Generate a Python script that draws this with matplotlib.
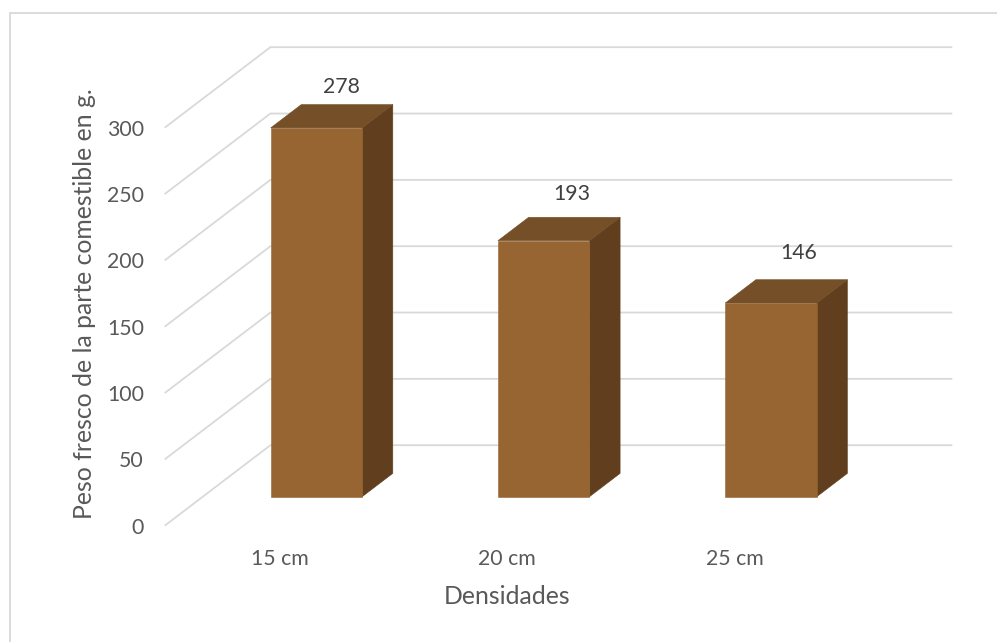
import matplotlib
matplotlib.use("Agg")
import matplotlib.pyplot as plt
from matplotlib.lines import Line2D
from matplotlib.patches import Polygon
from matplotlib.transforms import ScaledTranslation

categories = ["15 cm", "20 cm", "25 cm"]
values = [278, 193, 146]
value_ticks = [0, 50, 100, 150, 200, 250, 300]
x_title = "Densidades"
y_title = "Peso fresco de la parte comestible en g."

W, H = 997, 642
plt.rcParams["font.family"] = ["Lato", "DejaVu Sans"]
fig = plt.figure(figsize=(W / 100, H / 100), dpi=100, facecolor="white")

# Axes box in pixels: x 164.7..952.7, y 47..525.7
L, R, T, B = 164.7, 952.7, 47.0, 525.7
ax = fig.add_axes([L / W, 1 - B / H, (R - L) / W, (B - T) / H])
PX_CAT, PX_VAL = 227.3, 398.0 / 300
ax.set_xlim(-0.5, -0.5 + (R - L) / PX_CAT)
ax.set_ylim(0, (B - T) / PX_VAL)
ax.patch.set_visible(False)
for s in ax.spines.values():
    s.set_visible(False)

DX, DY = 105.7 / PX_CAT, 80.5 / PX_VAL   # full depth of the oblique floor


def proj(c, v, d):
    return (c + d * DX, v + d * DY)


GRID = "#D9D9D9"
x_end = 2.5
for v in value_ticks:
    pts = [proj(-0.5, v, 0), proj(-0.5, v, 1), proj(x_end, v, 1)]
    ax.plot(*zip(*pts), color=GRID, lw=1.3, zorder=1, clip_on=False,
            solid_capstyle="butt", solid_joinstyle="miter")

BW = 91.5 / PX_CAT / 2
D0, D1 = 0.36, 0.65
FRONT, TOP, SIDE = "#966532", "#744F27", "#613F1E"
label_shift = [-6, -3, -3]
label_lift = [18, 23, 27]
for i, (cat, val) in enumerate(zip(categories, values)):
    l, r = i - BW, i + BW
    ax.add_patch(Polygon([proj(r, 0, D0), proj(r, 0, D1), proj(r, val, D1), proj(r, val, D0)],
                         fc=SIDE, ec=SIDE, lw=0.4, zorder=3))
    ax.add_patch(Polygon([proj(l, val, D0), proj(r, val, D0), proj(r, val, D1), proj(l, val, D1)],
                         fc=TOP, ec=TOP, lw=0.4, zorder=3))
    ax.add_patch(Polygon([proj(l, 0, D0), proj(r, 0, D0), proj(r, val, D0), proj(l, val, D0)],
                         fc=FRONT, ec=FRONT, lw=0.4, zorder=3.1))
    ax.annotate(str(val), xy=proj(i, val, D1), xytext=(label_shift[i] * 0.72, label_lift[i] * 0.72),
                textcoords="offset points", ha="center", va="center",
                color="#404040", fontsize=15.3, zorder=4)

ax.set_xticks(range(len(categories)), categories)
ax.set_yticks(value_ticks)
ax.tick_params(axis="both", length=0, labelsize=15.3, labelcolor="#595959")
ax.tick_params(axis="y", pad=15)
ax.tick_params(axis="x", pad=17)
shift = ScaledTranslation(1.5 / 100, 0, fig.dpi_scale_trans)
for lab in ax.get_xticklabels():
    lab.set_transform(lab.get_transform() + shift)
fig.text(507 / W, 1 - 596 / H, x_title, ha="center", va="center", fontsize=17.8, color="#595959")
fig.text(85 / W, 1 - 304 / H, y_title, rotation=90, ha="center", va="center", fontsize=17.8, color="#595959")

fig.add_artist(Line2D([10 / W, 10 / W, 1], [0, 1 - 13 / H, 1 - 13 / H], transform=fig.transFigure,
                      color=GRID, lw=1.3, solid_joinstyle="miter"))
fig.savefig("out.png", dpi=100)
